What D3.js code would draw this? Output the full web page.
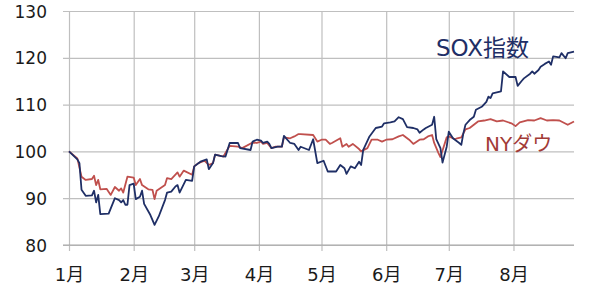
<!DOCTYPE html>
<html><head><meta charset="utf-8">
<script src="https://cdn.jsdelivr.net/npm/d3@7"></script>
<style>
html,body{margin:0;padding:0;background:#fff;}
svg{display:block;font-family:"DejaVu Sans","Noto Sans CJK JP",sans-serif;}
</style></head>
<body>
<svg id="chart" width="600" height="291"></svg>
<script>
const year = 2016;
const monthTicks = ["01-01","02-01","03-01","04-01","05-01","06-01","07-01","08-01"];
const monthLabels = ["1月","2月","3月","4月","5月","6月","7月","8月"];
const yTicks = [80,90,100,110,120,130];
const seriesNames = ["SOX指数","NYダウ"];

const soxDates = ["01-01","01-05","01-06","01-07","01-09","01-12","01-13","01-14","01-15","01-16",
"01-20","01-23","01-25","01-26","01-27","01-28","01-29","01-30","02-01","02-02",
"02-04","02-05","02-06","02-09","02-11","02-13","02-16","02-17","02-19","02-21",
"02-22","02-23","02-26","02-29","03-01","03-04","03-07","03-08","03-10","03-11",
"03-14","03-16","03-18","03-22","03-23","03-28","03-29","03-31","04-02","04-03",
"04-05","04-06","04-07","04-10","04-12","04-13","04-16","04-18","04-20","04-21",
"04-25","04-27","04-29","05-02","05-04","05-08","05-10","05-12","05-13","05-15",
"05-17","05-19","05-20","05-21","05-24","05-27","05-30","05-31","06-03","06-05",
"06-07","06-09","06-11","06-14","06-16","06-17","06-19","06-20","06-23","06-24",
"06-25","06-27","06-28","06-30","07-01","07-03","07-06","07-07","07-08","07-09",
"07-11","07-13","07-14","07-17","07-19","07-20","07-21","07-22","07-26","07-27",
"07-30","08-02","08-03","08-05","08-06","08-09","08-10","08-11","08-13","08-14",
"08-16","08-18","08-19","08-20","08-23","08-24","08-26","08-27","08-30"];
const soxValues = [100,98.3,97.5,91.8,90.5,90.6,91.6,89.1,90.7,86.6,
86.7,90.0,89.6,89.1,89.6,88.6,88.6,92.8,93.1,89.8,
90.3,91.6,88.8,86.4,84.3,86.1,89.6,91.2,91.4,92.5,
92.8,91.2,93.9,93.7,96.8,97.8,98.3,96.2,97.5,99.3,
99.0,98.9,101.8,101.8,100.7,100.3,102.1,102.5,102.3,101.8,
102.1,101.6,100.7,101.0,101.0,103.3,101.8,101.6,100.3,101.0,
100.3,102.6,97.5,98.0,95.7,95.7,97.1,96.4,95.2,96.8,
96.4,97.8,97.1,100.3,103.2,105.0,105.3,106.0,106.2,106.4,
107.3,106.9,105.2,105.0,104.7,104.0,104.7,105.0,105.7,107.4,
102.6,100.7,97.6,101.0,104.2,102.8,101.8,101.4,103.9,105.7,
106.7,107.4,108.9,109.6,110.6,111.7,111.4,112.4,112.8,117.1,
115.9,115.9,114.0,115.1,115.6,116.6,117.1,116.6,117.4,118.1,
118.7,119.2,118.5,120.3,120.1,121.0,119.9,121.0,121.3];

const dowDates = ["01-01","01-05","01-07","01-09","01-12","01-13","01-14","01-15","01-16","01-19",
"01-21","01-23","01-25","01-26","01-27","01-29","02-01","02-02","02-04","02-05",
"02-08","02-10","02-11","02-12","02-16","02-17","02-19","02-22","02-23","02-25",
"02-29","03-01","03-03","03-06","03-08","03-10","03-11","03-15","03-18","03-22",
"03-24","03-29","03-31","04-02","04-03","04-05","04-07","04-09","04-12","04-13",
"04-16","04-18","04-20","04-21","04-27","04-29","05-01","05-03","05-05","05-06",
"05-10","05-11","05-13","05-14","05-16","05-19","05-20","05-23","05-25","05-28",
"05-30","06-01","06-04","06-07","06-09","06-12","06-14","06-17","06-19","06-21",
"06-23","06-24","06-26","06-27","06-30","07-01","07-04","07-05","07-07","07-09",
"07-11","07-13","07-15","07-18","07-21","07-24","07-27","07-31","08-02","08-04",
"08-08","08-11","08-14","08-17","08-20","08-23","08-27","08-30"];
const dowValues = [100,98.5,94.6,93.9,94.1,94.8,92.8,93.9,91.9,92.0,
90.7,92.4,91.6,92.1,91.2,94.6,94.4,92.8,94.1,92.8,
91.9,91.8,89.8,91.6,92.8,94.3,94.1,95.5,94.6,95.9,
95.0,96.8,97.5,98.0,97.1,97.5,99.3,98.9,101.2,101.0,
100.7,101.9,101.8,102.1,101.6,101.8,100.7,101.0,101.0,103.0,
102.8,103.2,103.7,103.7,103.5,102.1,102.5,102.5,101.6,101.8,
102.8,101.0,101.6,101.0,101.6,100.5,100.0,100.7,102.5,102.5,
102.1,102.5,102.6,103.2,103.5,102.5,101.6,102.5,102.6,103.2,
103.5,101.8,99.7,98.8,103.0,103.2,102.6,102.8,103.0,104.7,
105.0,105.7,106.4,106.6,106.9,106.4,106.6,106.0,105.4,106.2,
106.7,106.6,107.1,106.6,106.7,106.6,105.7,106.4];

const parse = d3.timeParse("%Y-%m-%d");
const toDate = s => parse(year + "-" + s);

const margin = {top: 11, left: 69};
const W = 505, H = 234;
const svg = d3.select("#chart");
const g = svg.append("g").attr("transform", `translate(${margin.left},${margin.top})`);

const x = d3.scaleTime().domain([toDate("01-01"), toDate("08-30")]).range([0, W]);
const y = d3.scaleLinear().domain([80, 130]).range([H, 0]);

// horizontal grid + y labels
const ya = g.append("g").call(d3.axisLeft(y).tickValues(yTicks).tickSize(-W).tickFormat(d3.format("d")));
ya.select(".domain").remove();
ya.selectAll(".tick line").attr("x1", -6).attr("stroke", "#bfbfbf").attr("stroke-width", 1.2);
ya.selectAll(".tick text").attr("x", -22).attr("dy", "0.36em")
  .attr("font-size", 17).attr("fill", "#1a1a1a")
  .style("font-family", '"DejaVu Sans","Noto Sans CJK JP",sans-serif');

// vertical grid + month labels
const xa = g.append("g").attr("transform", `translate(0,${H})`)
  .call(d3.axisBottom(x).tickValues(monthTicks.map(toDate)).tickSize(-H)
    .tickFormat((d, i) => monthLabels[i]));
xa.select(".domain").remove();
xa.selectAll(".tick line").attr("y1", 6).attr("stroke", "#bfbfbf").attr("stroke-width", 1.2);
xa.selectAll(".tick text").attr("y", 36).attr("dy", 0)
  .attr("font-size", 18).attr("fill", "#1a1a1a")
  .style("font-family", '"DejaVu Sans","Noto Sans CJK JP",sans-serif');

// bottom axis line slightly darker
g.append("line").attr("x1", -6).attr("x2", W).attr("y1", y(80)).attr("y2", y(80))
  .attr("stroke", "#a6a6a6").attr("stroke-width", 1.2);

const line = d3.line().x(d => x(d[0])).y(d => y(d[1]));
const dowData = dowDates.map((d, i) => [toDate(d), dowValues[i]]);
const soxData = soxDates.map((d, i) => [toDate(d), soxValues[i]]);

g.append("path").datum(dowData).attr("d", line).attr("fill", "none")
  .attr("stroke", "#c0504d").attr("stroke-width", 1.8).attr("stroke-linejoin", "round");
g.append("path").datum(soxData).attr("d", line).attr("fill", "none")
  .attr("stroke", "#1f2f66").attr("stroke-width", 1.8).attr("stroke-linejoin", "round");

svg.append("text").attr("x", 436).attr("y", 55.5).attr("font-size", 23)
  .attr("fill", "#1f2f66").text(seriesNames[0]);
svg.append("text").attr("x", 485).attr("y", 151).attr("font-size", 20)
  .attr("fill", "#a23b37").text(seriesNames[1]);
</script>
</body></html>
